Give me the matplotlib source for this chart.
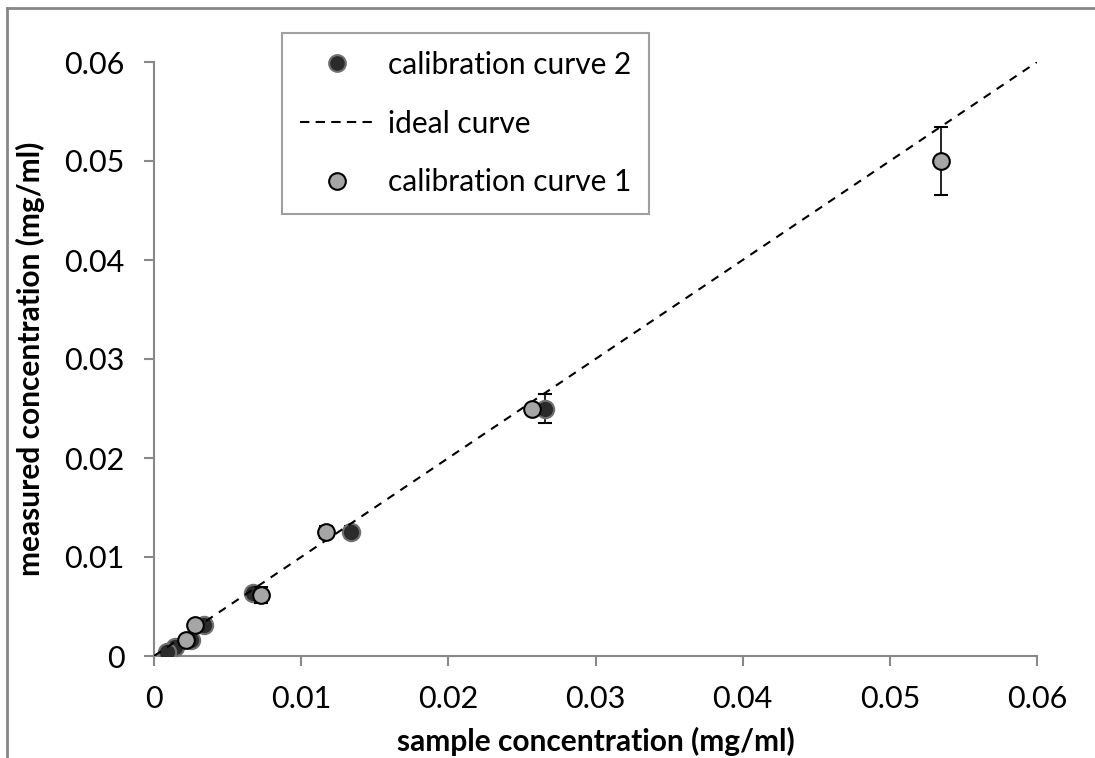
import numpy as np
import matplotlib.pyplot as plt
from matplotlib.lines import Line2D

plt.rcParams['font.family'] = ['Lato', 'DejaVu Sans']

# calibration curve 2 (dark points)
x2 = [0.0266, 0.0134, 0.0067, 0.0034, 0.0025, 0.0014, 0.0009]
y2 = [0.0250, 0.0125, 0.0064, 0.0031, 0.0016, 0.0009, 0.0004]
e2 = [0.0015, 0.0006, 0.0004, 0.0003, 0.0002, 0.0001, 0.0001]

# calibration curve 1 (light points)
x1 = [0.0535, 0.0257, 0.0117, 0.0073, 0.0028, 0.0022]
y1 = [0.0500, 0.0250, 0.0125, 0.0062, 0.0031, 0.0016]
e1 = [0.0034, 0.0003, 0.0006, 0.0008, 0.0003, 0.0003]

ideal = [0, 0.06]

fig = plt.figure(figsize=(10.95, 7.58), dpi=100)
ax = fig.add_axes([154/1095, 1-656/758, (1037-154)/1095, (656-62)/758])

ax.errorbar(x2, y2, yerr=e2, fmt='o', ms=12.5, mfc='#2b2b2b', mec='#707070', mew=1.5,
            ecolor='black', elinewidth=1.2, capsize=5, capthick=1.2, zorder=3)
ax.plot(ideal, ideal, '--', color='black', lw=1.5, dashes=(4, 3.5), zorder=4)
ax.errorbar(x1, y1, yerr=e1, fmt='o', ms=12, mfc='#a6a6a6', mec='black', mew=1.5,
            ecolor='black', elinewidth=1.2, capsize=5, capthick=1.2, zorder=5)

ax.set_xlim(0, 0.06)
ax.set_ylim(0, 0.06)
ticks = [0, 0.01, 0.02, 0.03, 0.04, 0.05, 0.06]
labels = ['0', '0.01', '0.02', '0.03', '0.04', '0.05', '0.06']
ax.set_xticks(ticks, labels)
ax.set_yticks(ticks, labels)
ax.tick_params(direction='out', length=7, width=1.5, color='#888888',
               labelsize=22, pad=14)

for s in ['top', 'right']:
    ax.spines[s].set_visible(False)
for s in ['left', 'bottom']:
    ax.spines[s].set_color('#888888')
    ax.spines[s].set_linewidth(1.5)

ax.set_xlabel('sample concentration (mg/ml)', fontsize=21.5, fontweight='bold', labelpad=10)
ax.set_ylabel('measured concentration (mg/ml)', fontsize=21.5, fontweight='bold', labelpad=14)

handles = [
    Line2D([], [], ls='none', marker='o', ms=12, mfc='#2b2b2b', mec='#707070', mew=1.5),
    Line2D([], [], ls='--', color='black', lw=1.5, dashes=(4.5, 3)),
    Line2D([], [], ls='none', marker='o', ms=12, mfc='#a6a6a6', mec='black', mew=1.5),
]
names = ['calibration curve 2', 'ideal curve', 'calibration curve 1']
leg = ax.legend(handles, names, loc='upper left',
                bbox_to_anchor=((282-154)/883, (656-33)/594),
                fontsize=21.5, frameon=True, fancybox=False, edgecolor='#888888',
                borderpad=0.6, labelspacing=1.03, handlelength=2.5, handletextpad=0.45,
                borderaxespad=0)
leg.get_frame().set_linewidth(1.5)

# outer chart border (cropped on right and bottom)
fig.add_artist(Line2D([7/1095, 1.0], [1-8/758, 1-8/758], color='#888888', lw=2))
fig.add_artist(Line2D([7/1095, 7/1095], [0, 1-8/758], color='#888888', lw=2))

fig.savefig('out.png', dpi=100)
